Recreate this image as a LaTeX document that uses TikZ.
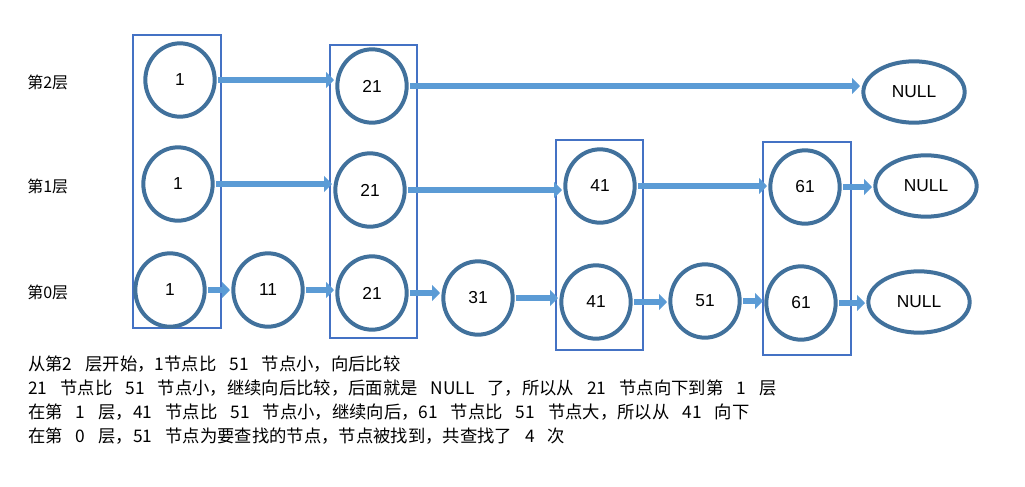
\documentclass[tikz,border=0pt]{standalone}
\usepackage{fontspec}
\setmainfont{Liberation Serif}
\newfontfamily\cjk{Noto Sans CJK SC}
\newfontfamily\lab{Liberation Sans}
\usetikzlibrary{arrows.meta,shapes.geometric}
\definecolor{cs}{HTML}{41719C}
\definecolor{af}{HTML}{5B9BD5}
\definecolor{rb}{HTML}{4472C4}
\newcommand{\wideskip}{\spaceskip=0.75em\relax}
\tikzset{
 nd/.style={ellipse,draw=cs,line width=3pt,minimum width=52pt,minimum height=55pt,inner sep=0pt,font=\lab\fontsize{13}{13}\selectfont},
 nul/.style={ellipse,draw=cs,line width=3pt,minimum width=76pt,minimum height=46pt,inner sep=0pt,font=\lab\fontsize{13}{13}\selectfont},
 ba/.style={draw=af,line width=5pt,-{Triangle[length=6pt,width=12pt]},shorten <=1pt,shorten >=1pt},
 bx/.style={draw=rb,line width=1pt},
 tx/.style={anchor=west,inner sep=0pt,font=\cjk\fontsize{13}{13}\selectfont\wideskip},
 lb/.style={anchor=west,inner sep=0pt,font=\cjk\fontsize{12}{12}\selectfont},
}
\begin{document}
\begin{tikzpicture}[x=0.75pt,y=-0.75pt]
\useasboundingbox (0,0) rectangle (1025,486);
\fill[white] (0,0) rectangle (1025,486);
\draw[bx] (133,35) rectangle (221,328);
\draw[bx] (330,45) rectangle (417,338);
\draw[bx] (556,140) rectangle (643,350);
\draw[bx] (763,142) rectangle (851,355);
\node[lb] (l2) at (27,82) {第2层};
\node[lb] (l1) at (27,186) {第1层};
\node[lb] (l0) at (27,292) {第0层};
\node[nd] (a2) at (180,80) {1};
\node[nd] (b2) at (372,86) {21};
\node[nul] (n2) at (914,92) {NULL};
\node[nd] (a1) at (178,184) {1};
\node[nd] (b1) at (370,190) {21};
\node[nd] (d1) at (600,186) {41};
\node[nd] (f1) at (805,187) {61};
\node[nul] (n1) at (926,186) {NULL};
\node[nd] (a0) at (170,290) {1};
\node[nd] (c0) at (268,290) {11};
\node[nd] (b0) at (372,293) {21};
\node[nd] (e0) at (478,298) {31};
\node[nd] (d0) at (596,302) {41};
\node[nd] (g0) at (705,301) {51};
\node[nd] (f0) at (801,303) {61};
\node[nul] (n0) at (919,302) {NULL};
\draw[ba] (a2.east) -- (b2.west |- a2.east);
\draw[ba] (b2.east) -- (n2.west |- b2.east);
\draw[ba] (a1.east) -- (b1.west |- a1.east);
\draw[ba] (b1.east) -- (d1.west |- b1.east);
\draw[ba] (d1.east) -- (f1.west |- d1.east);
\draw[ba] (f1.east) -- (n1.west |- f1.east);
\draw[ba] (a0.east) -- (c0.west |- a0.east);
\draw[ba] (c0.east) -- (b0.west |- c0.east);
\draw[ba] (b0.east) -- (e0.west |- b0.east);
\draw[ba] (e0.east) -- (d0.west |- e0.east);
\draw[ba] (d0.east) -- (g0.west |- d0.east);
\draw[ba] (g0.east) -- (f0.west |- g0.east);
\draw[ba] (f0.east) -- (n0.west |- f0.east);
\node[tx] (t1) at (28,364) {从第2 层开始，1节点比 51 节点小，向后比较};
\node[tx] (t2) at (28,388) {21 节点比 51 节点小，继续向后比较，后面就是 NULL 了，所以从 21 节点向下到第 1 层};
\node[tx] (t3) at (28,412) {在第 1 层，41 节点比 51 节点小，继续向后，61 节点比 51 节点大，所以从 41 向下};
\node[tx] (t4) at (28,436) {在第 0 层，51 节点为要查找的节点，节点被找到，共查找了 4 次};
\end{tikzpicture}
\end{document}
